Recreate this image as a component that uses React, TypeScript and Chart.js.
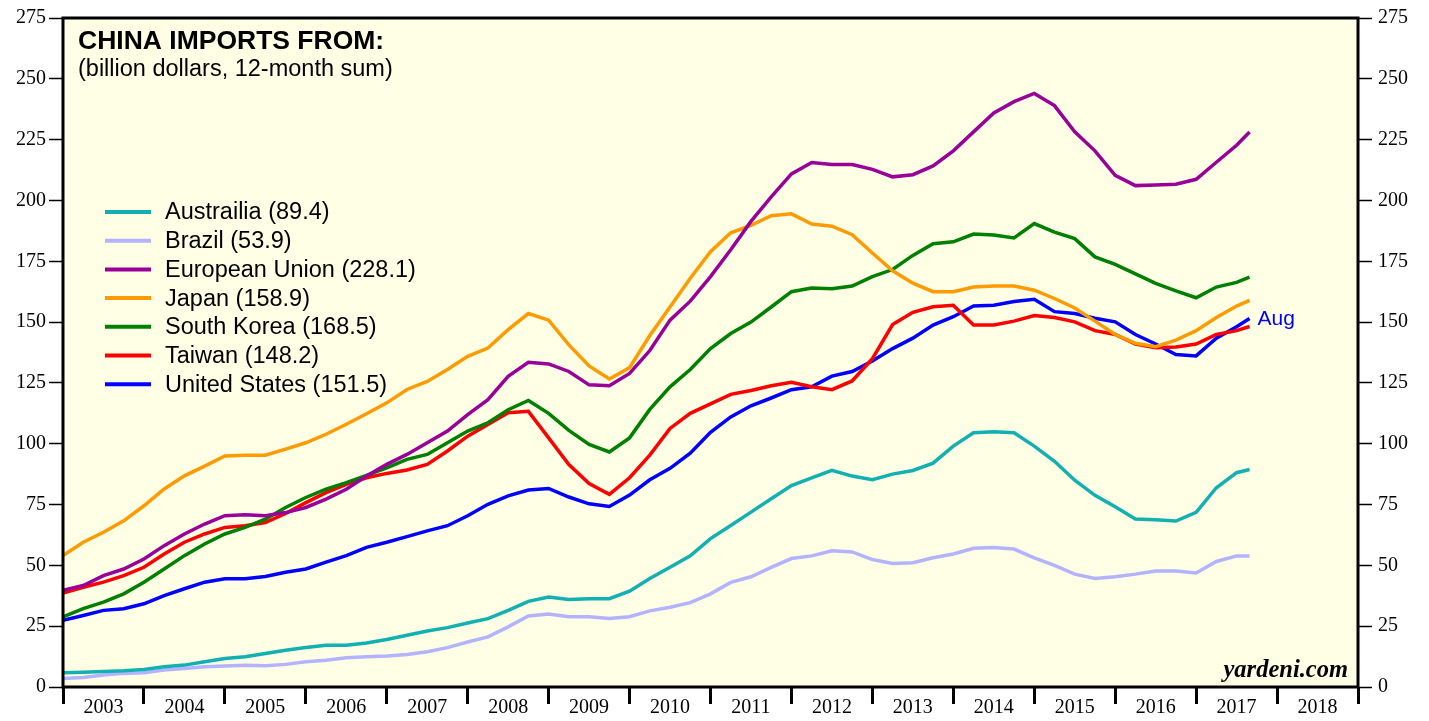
import React, { useEffect, useRef } from 'react';
import { Chart, registerables } from 'chart.js';

Chart.register(...registerables);

// Decimal-year dates (quarterly, ending Aug 2017)
const dates = [
  2003.0, 2003.25, 2003.5, 2003.75, 2004.0, 2004.25, 2004.5, 2004.75,
  2005.0, 2005.25, 2005.5, 2005.75, 2006.0, 2006.25, 2006.5, 2006.75,
  2007.0, 2007.25, 2007.5, 2007.75, 2008.0, 2008.25, 2008.5, 2008.75,
  2009.0, 2009.25, 2009.5, 2009.75, 2010.0, 2010.25, 2010.5, 2010.75,
  2011.0, 2011.25, 2011.5, 2011.75, 2012.0, 2012.25, 2012.5, 2012.75,
  2013.0, 2013.25, 2013.5, 2013.75, 2014.0, 2014.25, 2014.5, 2014.75,
  2015.0, 2015.25, 2015.5, 2015.75, 2016.0, 2016.25, 2016.5, 2016.75,
  2017.0, 2017.25, 2017.5, 2017.66,
];

const australia = [
  5.9, 6.1, 6.4, 6.7, 7.2, 8.3, 9.0, 10.4, 11.7, 12.4,
  13.8, 15.1, 16.2, 17.2, 17.2, 18.1, 19.5, 21.3, 23.0, 24.4,
  26.3, 28.1, 31.5, 35.2, 37.0, 36.0, 36.3, 36.3, 39.4, 44.6,
  49.2, 53.9, 61.0, 66.4, 71.9, 77.4, 82.8, 86.0, 89.1, 86.7,
  85.2, 87.5, 89.0, 92.0, 99.0, 104.5, 104.9, 104.5, 99.0, 92.8,
  85.0, 78.8, 74.1, 69.1, 68.7, 68.2, 71.8, 81.9, 88.1, 89.4,
];

const brazil = [
  3.5, 3.9, 4.9, 5.6, 5.9, 7.0, 7.6, 8.3, 8.6, 8.9,
  8.7, 9.3, 10.4, 11.0, 12.0, 12.4, 12.7, 13.4, 14.5, 16.2,
  18.5, 20.6, 24.7, 29.2, 30.0, 28.9, 28.9, 28.2, 28.9, 31.3,
  32.8, 34.7, 38.3, 43.0, 45.3, 49.2, 52.8, 53.9, 56.0, 55.5,
  52.4, 50.8, 51.1, 53.1, 54.7, 57.0, 57.3, 56.7, 53.1, 50.0,
  46.4, 44.6, 45.3, 46.4, 47.7, 47.7, 46.9, 51.6, 53.9, 53.9,
];

const europeanUnion = [
  39.7, 41.7, 45.8, 48.5, 52.6, 58.1, 62.9, 67.0, 70.4, 70.8,
  70.4, 71.7, 73.8, 77.2, 81.3, 86.7, 91.5, 95.6, 100.4, 105.2,
  112.0, 118.1, 127.7, 133.5, 132.8, 129.7, 124.2, 123.8, 128.9, 138.3,
  150.8, 158.6, 168.7, 179.7, 191.4, 201.5, 210.9, 215.6, 214.8, 214.8,
  212.8, 209.7, 210.6, 214.2, 220.4, 228.2, 236.0, 240.6, 244.0, 239.0,
  228.2, 220.4, 210.3, 206.1, 206.4, 206.7, 208.7, 215.7, 222.7, 228.1,
];

const japan = [
  54.0, 59.5, 63.6, 68.3, 74.5, 81.4, 86.8, 90.8, 95.0, 95.3,
  95.3, 97.8, 100.4, 103.9, 108.0, 112.3, 116.8, 122.3, 125.6, 130.5,
  135.9, 139.3, 146.9, 153.5, 150.8, 140.6, 132.0, 126.6, 131.3, 144.5,
  156.2, 168.0, 178.9, 186.7, 189.8, 193.7, 194.5, 190.3, 189.4, 185.9,
  178.4, 171.1, 166.0, 162.5, 162.5, 164.4, 164.8, 164.8, 163.1, 159.7,
  155.8, 150.4, 144.9, 141.3, 139.9, 142.6, 146.5, 151.9, 156.6, 158.9,
];

const southKorea = [
  28.8, 32.2, 34.9, 38.3, 43.1, 48.5, 54.0, 58.8, 62.9, 65.6,
  69.0, 73.8, 77.9, 81.3, 84.0, 87.0, 90.1, 93.6, 95.6, 100.4,
  105.2, 108.6, 114.0, 117.8, 112.5, 105.5, 99.7, 96.6, 102.4, 114.1,
  123.4, 130.5, 139.1, 145.3, 150.0, 156.2, 162.5, 164.0, 163.7, 164.8,
  168.7, 171.6, 177.4, 182.2, 183.0, 186.2, 185.8, 184.6, 190.5, 187.0,
  184.3, 176.8, 173.7, 169.8, 165.9, 162.8, 160.0, 164.4, 166.3, 168.5,
];

const taiwan = [
  38.6, 41.0, 43.1, 45.8, 49.2, 54.7, 59.5, 62.9, 65.6, 66.3,
  67.6, 71.3, 75.8, 79.9, 83.3, 86.0, 87.8, 89.2, 91.5, 97.0,
  103.1, 107.9, 112.7, 113.3, 102.4, 91.4, 83.6, 79.2, 86.0, 95.3,
  106.3, 112.5, 116.4, 120.3, 121.9, 123.8, 125.3, 123.4, 122.2, 125.8,
  135.0, 149.0, 154.0, 156.3, 156.9, 148.8, 148.8, 150.4, 152.7, 151.9,
  150.1, 146.5, 144.9, 141.0, 139.5, 139.8, 141.0, 144.9, 146.5, 148.2,
];

const unitedStates = [
  27.4, 29.4, 31.5, 32.2, 34.2, 37.6, 40.4, 43.1, 44.5, 44.5,
  45.4, 47.2, 48.5, 51.3, 54.0, 57.4, 59.5, 61.8, 64.2, 66.3,
  70.4, 75.1, 78.6, 81.0, 81.6, 78.1, 75.3, 74.2, 78.9, 85.2,
  89.9, 96.1, 104.7, 111.0, 115.6, 118.8, 122.2, 123.4, 127.8, 129.7,
  134.0, 139.1, 143.4, 148.8, 152.2, 156.6, 156.9, 158.5, 159.4, 154.3,
  153.5, 151.6, 150.1, 144.9, 141.0, 136.7, 136.1, 143.4, 148.1, 151.5,
];

const seriesNames = ['Austrailia', 'Brazil', 'European Union', 'Japan', 'South Korea', 'Taiwan', 'United States'];
const latestValues = ['89.4', '53.9', '228.1', '158.9', '168.5', '148.2', '151.5'];
const seriesColors = ['#12b0b0', '#b3b3ff', '#990099', '#ff9a00', '#008000', '#ff0000', '#0000ff'];
const seriesValues = [australia, brazil, europeanUnion, japan, southKorea, taiwan, unitedStates];

const yearTicks = [
  2003, 2004, 2005, 2006, 2007, 2008, 2009, 2010, 2011,
  2012, 2013, 2014, 2015, 2016, 2017, 2018, 2019,
];

const titleText = 'CHINA IMPORTS FROM:';
const subtitleText = '(billion dollars, 12-month sum)';
const sourceText = 'yardeni.com';
const lastMonthText = 'Aug';

const BG = '#ffffe6';

const framePlugin = {
  id: 'frameAndAnnotations',
  beforeDraw(chart: any) {
    const { ctx, chartArea: a } = chart;
    ctx.save();
    ctx.fillStyle = BG;
    ctx.fillRect(a.left, a.top, a.right - a.left, a.bottom - a.top);
    ctx.restore();
  },
  afterDatasetsDraw(chart: any) {
    const { ctx, chartArea: a } = chart;
    ctx.save();
    // title
    ctx.fillStyle = '#000';
    ctx.textAlign = 'left';
    ctx.textBaseline = 'alphabetic';
    ctx.font = 'bold 26.5px "Liberation Sans", Arial, sans-serif';
    ctx.fillText(titleText, a.left + 15, a.top + 31);
    ctx.font = '23.5px "Liberation Sans", Arial, sans-serif';
    ctx.fillText(subtitleText, a.left + 15, a.top + 58);

    // legend
    for (let i = 0; i < seriesNames.length; i++) {
      const y = a.top + 194 + i * 28.7;
      ctx.strokeStyle = seriesColors[i];
      ctx.lineWidth = 4;
      ctx.lineCap = 'butt';
      ctx.beginPath();
      ctx.moveTo(a.left + 42, y);
      ctx.lineTo(a.left + 88, y);
      ctx.stroke();
      ctx.fillStyle = '#000';
      ctx.textBaseline = 'middle';
      ctx.font = '23.5px "Liberation Sans", Arial, sans-serif';
      ctx.fillText(seriesNames[i] + ' (' + latestValues[i] + ')', a.left + 102, y + 1);
    }

    // Aug label at last US point
    const meta = chart.getDatasetMeta(seriesNames.length - 1);
    const last = meta.data[meta.data.length - 1];
    if (last) {
      ctx.fillStyle = '#0000ff';
      ctx.textBaseline = 'middle';
      ctx.font = '21px "Liberation Sans", Arial, sans-serif';
      ctx.fillText(lastMonthText, last.x + 8, last.y + 1);
    }

    // source
    ctx.fillStyle = '#000';
    ctx.textAlign = 'right';
    ctx.textBaseline = 'alphabetic';
    ctx.font = 'italic bold 24.5px "Liberation Serif", "Times New Roman", serif';
    ctx.fillText(sourceText, a.right - 10, a.bottom - 10);

    // frame
    ctx.strokeStyle = '#000';
    ctx.lineWidth = 3;
    ctx.strokeRect(a.left, a.top, a.right - a.left, a.bottom - a.top);
    ctx.restore();
  },
};

const tickFont = { family: '"Liberation Serif", "Times New Roman", serif', size: 20 };

export default function App() {
  const canvasRef = useRef<HTMLCanvasElement | null>(null);

  useEffect(() => {
    if (!canvasRef.current) return;
    const datasets = seriesValues.map((vals, i) => ({
      label: seriesNames[i],
      data: dates.map((d, j) => ({ x: d, y: vals[j] })),
      borderColor: seriesColors[i],
      backgroundColor: seriesColors[i],
      borderWidth: 3.5,
      pointRadius: 0,
      tension: 0,
      fill: false,
    }));

    const yAxis = (position: 'left' | 'right', width: number) => ({
      type: 'linear' as const,
      position,
      min: 0,
      max: 275,
      ticks: { stepSize: 25, color: '#000', font: tickFont, padding: position === 'left' ? 3 : 6 },
      grid: { drawOnChartArea: false, drawTicks: true, tickLength: 14, tickColor: '#000', tickWidth: 1.5, color: 'rgba(0,0,0,0)' },
      border: { display: false },
      afterFit: (s: any) => { s.width = width; },
    });

    const chart = new Chart(canvasRef.current, {
      type: 'line',
      data: { datasets },
      options: {
        responsive: false,
        maintainAspectRatio: false,
        animation: false,
        layout: { padding: { top: 15, left: 0, right: 0, bottom: 0 } },
        plugins: {
          legend: { display: false },
          tooltip: { enabled: false },
          title: { display: false },
        },
        scales: {
          x: {
            type: 'linear',
            min: yearTicks[0],
            max: yearTicks[yearTicks.length - 1],
            afterBuildTicks: (scale: any) => {
              const t: any[] = [];
              for (let i = 0; i < yearTicks.length; i++) {
                t.push({ value: yearTicks[i] });
                if (i < yearTicks.length - 1) t.push({ value: yearTicks[i] + 0.5 });
              }
              scale.ticks = t;
            },
            ticks: {
              autoSkip: false,
              maxRotation: 0,
              minRotation: 0,
              color: '#000',
              font: tickFont,
              padding: -8,
              callback: (v: any) => (Number.isInteger(v) ? '' : String(Math.floor(v))),
            },
            grid: {
              drawOnChartArea: false,
              drawTicks: true,
              tickLength: 17,
              color: 'rgba(0,0,0,0)',
              tickColor: (c: any) => (c.tick && Number.isInteger(c.tick.value) ? '#000' : 'rgba(0,0,0,0)'),
              tickWidth: 3,
            },
            border: { display: false },
            afterFit: (s: any) => { s.height = 34; },
          },
          y: yAxis('left', 63),
          y2: yAxis('right', 71),
        },
      },
      plugins: [framePlugin],
    } as any);

    return () => chart.destroy();
  }, []);

  return (
    <div style={{ position: 'absolute', left: 0, top: 0, width: 1429, height: 721, background: '#fff' }}>
      <canvas ref={canvasRef} width={1429} height={721} style={{ width: 1429, height: 721, display: 'block' }} />
    </div>
  );
}
